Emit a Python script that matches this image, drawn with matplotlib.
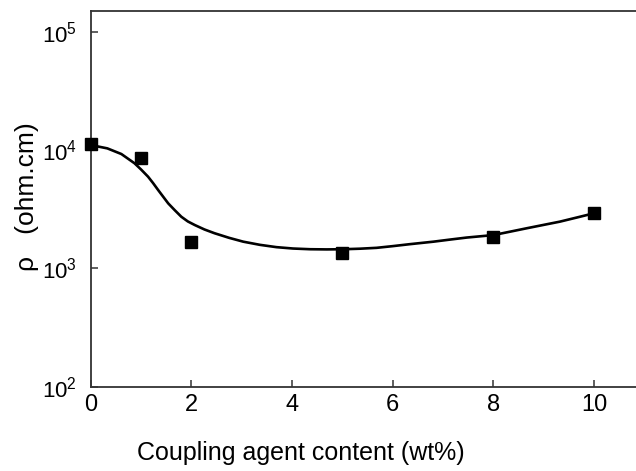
import matplotlib
matplotlib.use("Agg")
import matplotlib.pyplot as plt

family = "Liberation Sans"
plt.rcParams["font.family"] = [family, "DejaVu Sans"]
plt.rcParams["mathtext.fontset"] = "custom"
plt.rcParams["mathtext.rm"] = family

# measured data points
x_pts = [0, 1, 2, 5, 8, 10]
rho_pts = [11200, 8600, 1660, 1340, 1850, 2950]

# fitted curve
x_fit = [0, 0.33, 0.61, 0.87, 1.0, 1.14, 1.24, 1.34, 1.44, 1.54, 1.67, 1.80, 1.93, 2.07,
         2.26, 2.46, 2.75, 3.03, 3.36, 3.69, 4.02, 4.36, 4.69, 5.02, 5.35, 5.68, 6.0,
         6.34, 6.81, 7.14, 7.47, 8.0, 8.33, 8.66, 9.0, 9.32, 9.66, 10.0]
rho_fit = [11020, 10330, 9250, 7730, 6850, 5950, 5250, 4590, 4030, 3540, 3100, 2730, 2490, 2320,
           2130, 1980, 1810, 1680, 1580, 1510, 1470, 1450, 1445, 1450, 1465, 1490, 1540,
           1600, 1680, 1750, 1820, 1910, 2040, 2180, 2330, 2480, 2690, 2920]

x_ticks = [0, 2, 4, 6, 8, 10]
y_ticks = [1e2, 1e3, 1e4, 1e5]
y_ticklabels = [r"$10^2$", r"$10^3$", r"$10^4$", r"$10^5$"]

W, H = 636, 471
fig = plt.figure(figsize=(W / 100, H / 100), dpi=100)
left, right, bottom, top = 90.7, 644.4, 386.6, 10.7
ax = fig.add_axes([left / W, (H - bottom) / H, (right - left) / W, (bottom - top) / H])

ax.plot(x_fit, rho_fit, color="black", lw=1.9, zorder=2, solid_joinstyle="round")
ax.plot(x_pts, rho_pts, ls="none", marker="s", ms=9.2, color="black", zorder=3, clip_on=False)

ax.set_yscale("log")
ax.set_xlim(0, 11)
ax.set_ylim(1e2, 10 ** 5.178)
ax.set_xticks(x_ticks)
ax.set_xticklabels([str(v) for v in x_ticks])
ax.set_yticks(y_ticks)
ax.set_yticklabels(y_ticklabels)
ax.minorticks_off()

for s in ax.spines.values():
    s.set_linewidth(1.3)
    s.set_color("#333333")
ax.tick_params(direction="in", length=5, width=1.1, color="#333333")
ax.tick_params(axis="x", pad=5, labelsize=17)
ax.tick_params(axis="y", pad=10, labelsize=16)

fig.text(301 / W, (H - 460) / H, "Coupling agent content (wt%)", ha="center", va="baseline", fontsize=18)
fig.text(27 / W, (H - 197) / H, "ρ   (ohm.cm)", ha="center", va="center", rotation=90, fontsize=19)

fig.savefig("out.png", dpi=100)
